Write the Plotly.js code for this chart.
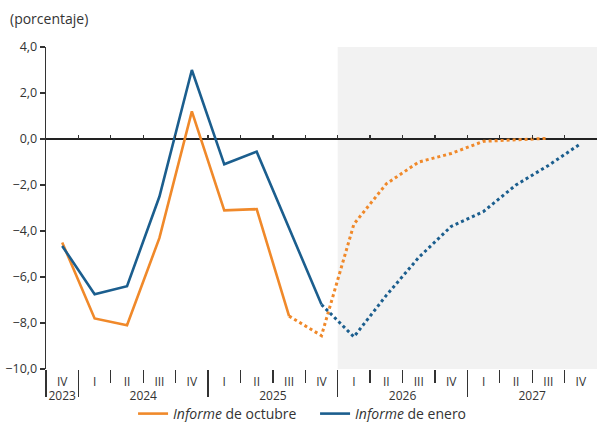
<!DOCTYPE html>
<html>
<head>
<meta charset="utf-8">
<script src="https://cdn.plot.ly/plotly-3.0.1.min.js"></script>
<style>html,body{margin:0;padding:0;background:#fff}#chart{width:597px;height:422px}</style>
</head>
<body>
<div id="chart"></div>
<script>
// ---- data ----
const quarterLabels = ['IV','I','II','III','IV','I','II','III','IV','I','II','III','IV','I','II','III','IV'];
const quarterYears  = ['2023','2024','2024','2024','2024','2025','2025','2025','2025','2026','2026','2026','2026','2027','2027','2027','2027'];
const informeOctubre = [-4.5,-7.8,-8.1,-4.3,1.2,-3.1,-3.05,-7.7,-8.55,-3.7,-1.95,-1.0,-0.63,-0.1,-0.02,0.03,null];
const informeEnero   = [-4.65,-6.75,-6.4,-2.5,3.0,-1.1,-0.55,-3.9,-7.2,-8.6,-6.8,-5.15,-3.8,-3.15,-2.0,-1.15,-0.2];
const octubreLastObserved = 7;   // 2025 III
const eneroLastObserved = 8;     // 2025 IV
const forecastStart = 9;         // 2026 I
const yTicks = [4,2,0,-2,-4,-6,-8,-10];

// ---- derived ----
const idx = quarterLabels.map((_, i) => i);
const n = idx.length;
const orange = '#F0892A', blue = '#1B5E8E';
const font = 'Open Sans, Noto Sans, sans-serif';

function part(arr, a, b) { return arr.map((v, i) => (i >= a && i <= b) ? v : null); }

const yearList = [...new Set(quarterYears)];
const yearCenters = yearList.map(y => {
  const ii = idx.filter(i => quarterYears[i] === y);
  return ii.reduce((s, v) => s + v, 0) / ii.length;
});
const yearBounds = [-0.5];
for (let i = 1; i < n; i++) if (quarterYears[i] !== quarterYears[i-1]) yearBounds.push(i - 0.5);
const allBounds = idx.slice(0, n - 1).map(i => i + 0.5);
const empty = idx.map(() => null);

const traces = [
  {x: idx, y: part(informeOctubre, 0, octubreLastObserved), type: 'scatter', mode: 'lines',
   name: '<i>Informe</i> de octubre', line: {color: orange, width: 2.6}, hoverinfo: 'skip'},
  {x: idx, y: part(informeEnero, 0, eneroLastObserved), type: 'scatter', mode: 'lines',
   name: '<i>Informe</i> de enero', line: {color: blue, width: 2.6}, hoverinfo: 'skip'},
  {x: idx, y: part(informeOctubre, octubreLastObserved, n - 1), type: 'scatter', mode: 'lines',
   showlegend: false, line: {color: orange, width: 3, dash: 'dot'}, hoverinfo: 'skip'},
  {x: idx, y: part(informeEnero, eneroLastObserved, n - 1), type: 'scatter', mode: 'lines',
   showlegend: false, line: {color: blue, width: 3, dash: 'dot'}, hoverinfo: 'skip'},
  // carriers for the helper axes (no visible marks)
  {x: idx, y: empty, xaxis: 'x2', yaxis: 'y', type: 'scatter', mode: 'lines', showlegend: false, hoverinfo: 'skip'},
  {x: idx, y: empty, xaxis: 'x3', yaxis: 'y', type: 'scatter', mode: 'lines', showlegend: false, hoverinfo: 'skip'},
  {x: idx, y: empty, xaxis: 'x4', yaxis: 'y', type: 'scatter', mode: 'lines', showlegend: false, hoverinfo: 'skip'}
];

const xr = [-0.5, n - 0.5];
const yr = [-10, 4];

const layout = {
  width: 597, height: 422,
  margin: {l: 46, r: 0, t: 47, b: 53, autoexpand: false},
  paper_bgcolor: '#fff', plot_bgcolor: 'rgba(0,0,0,0)',
  font: {family: font, size: 12, color: '#333'},
  separators: ',.',
  showlegend: true,
  legend: {orientation: 'h', x: 0.158, xanchor: 'left', y: (369 - 414) / 322, yanchor: 'middle',
           entrywidth: 137, entrywidthmode: 'pixels',
           font: {family: font, size: 14, color: '#333'}, itemwidth: 30, bgcolor: 'rgba(0,0,0,0)'},
  xaxis: {range: xr, showgrid: false, zeroline: false, showline: false,
          tickmode: 'array', tickvals: idx, ticktext: quarterLabels, ticks: '',
          ticklabelstandoff: 4, tickfont: {size: 12, color: '#333'},
          minor: {tickmode: 'array', tickvals: allBounds, ticks: 'outside', ticklen: 13, tickwidth: 1.3, tickcolor: '#333'}},
  xaxis2: {range: xr, overlaying: 'x', anchor: 'y', side: 'bottom', showgrid: false, zeroline: false, showline: false,
           tickmode: 'array', tickvals: yearCenters, ticktext: yearList, ticks: '',
           ticklabelstandoff: 18, tickfont: {size: 12, color: '#333'}},
  xaxis3: {range: xr, overlaying: 'x', anchor: 'y', side: 'bottom', showgrid: false, zeroline: false, showline: false,
           tickmode: 'array', tickvals: yearBounds, ticks: 'outside', ticklen: 27, tickwidth: 1.3, tickcolor: '#333',
           showticklabels: false},
  xaxis4: {range: xr, overlaying: 'x', anchor: 'free', position: (0 - yr[0]) / (yr[1] - yr[0]), side: 'bottom',
           showgrid: false, zeroline: false, showline: false,
           tickmode: 'array', tickvals: allBounds, ticks: 'inside', ticklen: 4, tickwidth: 1.3, tickcolor: '#333',
           showticklabels: false},
  yaxis: {range: yr, showgrid: false, zeroline: true, zerolinecolor: '#222', zerolinewidth: 2,
          showline: true, linecolor: '#333', linewidth: 1.3,
          tickmode: 'array', tickvals: yTicks, tickformat: '.1f', ticks: 'outside', ticklen: 5, tickwidth: 1.3, tickcolor: '#333',
          tickfont: {size: 12.5, color: '#333'}},
  shapes: [{type: 'rect', xref: 'x', yref: 'paper', x0: forecastStart - 0.5, x1: xr[1], y0: 0, y1: 1,
            fillcolor: '#F2F2F2', line: {width: 0}, layer: 'below'}],
  annotations: [{text: '(porcentaje)', xref: 'paper', yref: 'paper', x: -0.069, y: 1.09, xanchor: 'left', yanchor: 'middle',
                 showarrow: false, font: {family: font, size: 14, color: '#333'}}]
};

Plotly.newPlot('chart', traces, layout, {staticPlot: true, displayModeBar: false});
</script>
</body>
</html>
